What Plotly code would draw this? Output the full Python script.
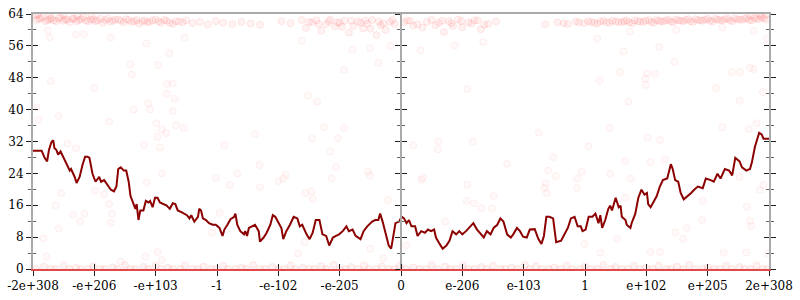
import plotly.graph_objects as go

# ---- x axis (ordered floating-point axis) ----
tick_vals = [-6, -5, -4, -3, -2, -1, 0, 1, 2, 3, 4, 5, 6]
tick_text = ["-2e+308", "-e+206", "-e+103", "-1", "-e-102", "-e-205", "0",
             "e-206", "e-103", "1", "e+102", "e+205", "2e+308"]

# ---- average error line ----
line_x = [
    -6.00, -5.86, -5.81, -5.77, -5.74, -5.70, -5.67, -5.65, -5.62, -5.59,
    -5.55, -5.51, -5.46, -5.40, -5.38, -5.32, -5.29, -5.24, -5.19, -5.15,
    -5.11, -5.08, -5.03, -4.98, -4.92, -4.89, -4.84, -4.79, -4.73, -4.68,
    -4.64, -4.61, -4.57, -4.52, -4.48, -4.44, -4.41, -4.36, -4.33, -4.31,
    -4.28, -4.25, -4.20, -4.16, -4.12, -4.09, -4.05, -4.01, -3.97, -3.93,
    -3.88, -3.82, -3.77, -3.72, -3.68, -3.64, -3.58, -3.53, -3.49, -3.45,
    -3.42, -3.37, -3.31, -3.29, -3.26, -3.23, -3.18, -3.13, -3.07, -3.02,
    -2.96, -2.91, -2.88, -2.83, -2.78, -2.72, -2.70, -2.67, -2.62, -2.56,
    -2.54, -2.51, -2.48, -2.43, -2.38, -2.32, -2.30, -2.24, -2.19, -2.13,
    -2.09, -2.05, -2.00, -1.95, -1.92, -1.87, -1.81, -1.75, -1.69, -1.65,
    -1.61, -1.54, -1.49, -1.44, -1.39, -1.33, -1.28, -1.22, -1.17, -1.11,
    -1.06, -1.01, -0.95, -0.89, -0.85, -0.79, -0.74, -0.66, -0.61, -0.55,
    -0.47, -0.42, -0.37, -0.34, -0.30, -0.26, -0.20, -0.16, -0.12, -0.09,
    -0.03, 0.01, 0.05, 0.09, 0.13, 0.17, 0.23, 0.27, 0.33, 0.39,
    0.44, 0.49, 0.54, 0.57, 0.63, 0.68, 0.74, 0.79, 0.84, 0.90,
    0.95, 1.00, 1.06, 1.11, 1.18, 1.24, 1.30, 1.35, 1.40, 1.46,
    1.51, 1.57, 1.62, 1.67, 1.73, 1.79, 1.83, 1.89, 1.94, 1.99,
    2.05, 2.10, 2.18, 2.24, 2.29, 2.33, 2.37, 2.42, 2.48, 2.53,
    2.61, 2.67, 2.72, 2.77, 2.83, 2.88, 2.93, 2.96, 3.01, 3.06,
    3.12, 3.17, 3.22, 3.25, 3.28, 3.33, 3.38, 3.41, 3.44, 3.50,
    3.55, 3.58, 3.60, 3.66, 3.68, 3.74, 3.76, 3.82, 3.87, 3.92,
    3.97, 4.01, 4.03, 4.07, 4.11, 4.17, 4.22, 4.27, 4.34, 4.40,
    4.43, 4.47, 4.52, 4.56, 4.61, 4.68, 4.73, 4.78, 4.84, 4.92,
    4.97, 5.05, 5.10, 5.16, 5.21, 5.28, 5.35, 5.40, 5.45, 5.52,
    5.56, 5.63, 5.69, 5.72, 5.77, 5.81, 5.84, 5.88, 5.91, 6.00,
]
line_y = [
    29.7, 29.7, 27.9, 27.0, 29.9, 31.8, 32.3, 30.3, 29.9, 28.7,
    29.5, 28.2, 26.3, 24.7, 25.1, 23.1, 21.6, 23.1, 26.3, 28.2,
    28.2, 27.9, 23.9, 21.9, 23.1, 21.9, 22.3, 21.1, 19.9, 19.5,
    20.7, 25.1, 25.5, 24.7, 24.7, 21.9, 18.3, 16.3, 15.1, 16.3,
    12.3, 14.7, 14.7, 17.1, 16.7, 17.1, 15.5, 17.9, 17.9, 16.7,
    16.3, 15.9, 15.1, 16.5, 16.3, 14.7, 14.3, 13.9, 13.5, 12.7,
    13.5, 11.9, 13.1, 15.1, 14.7, 12.7, 12.3, 11.5, 11.1, 11.1,
    10.3, 8.3, 9.9, 11.1, 12.5, 13.1, 13.9, 11.1, 9.5, 8.7,
    9.5, 8.3, 10.3, 10.7, 11.1, 9.5, 6.9, 7.9, 9.1, 11.1,
    13.5, 13.1, 11.5, 10.3, 7.5, 9.5, 11.1, 13.1, 12.7, 10.7,
    11.1, 8.7, 7.5, 9.1, 12.3, 12.3, 8.7, 8.3, 5.9, 7.9,
    8.3, 8.7, 9.5, 10.7, 9.5, 9.9, 8.3, 7.5, 9.5, 10.7,
    11.9, 12.3, 12.3, 13.9, 11.9, 9.5, 5.9, 5.1, 8.7, 11.5,
    11.9, 13.1, 12.7, 11.5, 12.3, 10.7, 10.7, 8.3, 9.5, 9.1,
    9.9, 9.5, 9.9, 7.9, 6.3, 5.1, 5.9, 7.1, 9.5, 8.7,
    9.5, 8.7, 9.5, 10.3, 11.5, 9.9, 8.7, 7.9, 9.5, 8.7,
    10.3, 11.1, 12.7, 11.9, 8.7, 7.9, 8.7, 10.3, 9.5, 8.1,
    7.9, 9.9, 10.0, 7.5, 6.3, 8.3, 13.1, 13.1, 12.7, 6.7,
    7.1, 8.7, 10.3, 12.7, 13.1, 10.7, 10.7, 9.5, 9.9, 13.1,
    13.1, 13.9, 11.5, 13.5, 10.3, 12.3, 15.1, 15.9, 14.7, 17.9,
    15.5, 15.9, 13.1, 12.3, 11.1, 10.3, 11.5, 13.9, 17.9, 19.9,
    18.7, 19.1, 16.3, 15.5, 16.7, 18.3, 20.7, 22.3, 22.7, 26.3,
    25.1, 22.3, 21.9, 19.1, 17.5, 18.3, 19.1, 19.9, 20.7, 20.3,
    22.7, 22.3, 21.9, 23.9, 22.7, 25.1, 24.7, 23.5, 27.9, 27.0,
    25.5, 24.7, 25.1, 26.7, 30.6, 32.7, 34.2, 33.8, 32.7, 32.7,
]

# ---- sampled points: low-error band ----
bottom_x = [
    -5.95, -5.82, -5.71, -5.63, -5.50, -5.41, -5.30, -5.22, -5.10, -5.02,
    -4.90, -4.83, -4.70, -4.62, -4.50, -4.41, -4.33, -4.20, -4.12, -4.00,
    -3.91, -3.80, -3.72, -3.60, -3.52, -3.40, -3.31, -3.22, -3.10, -3.01,
    -2.90, -2.82, -2.70, -2.60, -2.52, -2.41, -2.30, -2.21, -2.10, -2.00,
    -1.90, -1.80, -1.72, -1.60, -1.50, -1.41, -1.30, -1.22, -1.10, -1.00,
    -0.90, -0.81, -0.70, -0.60, -0.52, -0.40, -0.31, -0.20, -0.10, -0.02,
    0.08, 0.20, 0.30, 0.41, 0.50, 0.60, 0.72, 0.80, 0.90, 1.01,
    1.10, 1.20, 1.31, 1.40, 1.50, 1.62, 1.70, 1.80, 1.90, 2.02,
    2.10, 2.20, 2.30, 2.41, 2.50, 2.60, 2.70, 2.80, 2.92, 3.00,
    3.10, 3.20, 3.30, 3.42, 3.50, 3.60, 3.70, 3.80, 3.90, 4.00,
    4.10, 4.20, 4.32, 4.40, 4.50, 4.60, 4.70, 4.80, 4.92, 5.00,
    5.10, 5.20, 5.30, 5.40, 5.52, 5.60, 5.70, 5.80, 5.90, 5.98,
]
bottom_y = [
    0.0, 0.6, 0.0, 0.0, 0.9, 0.0, 0.3, 0.0, 0.0, 0.7,
    0.0, 0.0, 0.4, 0.0, 1.0, 0.0, 0.0, 0.5, 0.0, 0.8,
    0.0, 0.3, 0.0, 0.0, 0.9, 0.0, 0.0, 0.6, 0.0, 0.0,
    0.8, 0.0, 0.0, 0.4, 0.0, 1.0, 0.0, 0.0, 0.5, 0.0,
    0.0, 0.9, 0.0, 0.3, 0.0, 0.0, 0.7, 0.0, 1.0, 0.0,
    0.0, 0.5, 0.0, 0.9, 0.0, 0.0, 0.6, 0.0, 0.0, 0.8,
    0.0, 0.4, 0.0, 0.0, 1.0, 0.0, 0.6, 0.0, 0.0, 0.9,
    0.0, 0.0, 0.5, 0.0, 0.8, 0.0, 0.0, 0.3, 0.0, 1.0,
    0.0, 0.7, 0.0, 0.0, 0.4, 0.0, 0.9, 0.0, 0.0, 0.6,
    0.0, 0.0, 1.0, 0.0, 0.5, 0.0, 0.0, 0.8, 0.0, 0.3,
    0.0, 0.9, 0.0, 0.0, 0.6, 0.0, 1.0, 0.0, 0.0, 0.4,
    0.0, 0.0, 0.8, 0.0, 0.5, 0.0, 0.0, 0.9, 0.0, 0.0,
]

# ---- sampled points: high-error band ----
top_x = [
    -5.97, -5.90, -5.84, -5.76, -5.70, -5.62, -5.55, -5.47, -5.40, -5.33,
    -5.25, -5.18, -5.10, -5.02, -4.95, -4.86, -4.78, -4.70, -4.61, -4.52,
    -4.44, -4.35, -4.27, -4.18, -4.10, -4.00, -3.91, -3.82, -3.72, -3.62,
    -3.50, -3.40, -3.28, -3.15, -3.02, -2.90, -2.75, -2.60, -2.45, -2.30,
    -5.93, -5.72, -5.50, -5.28, -5.05,
    -1.95, -1.80, -1.62, -1.55, -1.45, -1.38, -1.30, -1.22, -1.15, -1.08,
    -1.00, -0.92, -0.85, -0.78, -0.70, -0.62, -0.55, -0.47, -0.40, -0.33,
    -0.25, -0.18, -0.10, 0.10, 0.20, 0.35, 0.50, 0.62, 0.70, 0.78,
    0.85, 0.93, 1.00, 1.10, 1.20, 1.30, 1.42, 1.55,
    2.35, 2.55, 2.72, 2.85, 2.98, 3.10, 3.20, 3.30, 3.40, 3.50,
    3.60, 3.68, 3.77, 3.86, 3.95, 4.04, 4.12, 4.20, 4.28, 4.36,
    4.44, 4.52, 4.60, 4.68, 4.76, 4.84, 4.92, 5.00, 5.08, 5.16,
    5.24, 5.32, 5.40, 5.48, 5.56, 5.64, 5.72, 5.80, 5.88, 5.96,
    5.70, 5.85, 5.95,
]
top_y = [
    63.6, 62.8, 63.3, 62.4, 62.9, 62.2, 63.1, 62.6, 62.0, 62.8,
    62.5, 63.2, 62.1, 62.7, 62.4, 61.8, 62.9, 62.3, 62.6, 61.9,
    62.5, 62.2, 61.6, 62.4, 62.0, 62.6, 61.8, 62.3, 61.5, 62.1,
    62.4, 61.7, 62.0, 61.4, 62.2, 61.8, 61.5, 62.0, 61.6, 61.3,
    63.8, 63.7, 63.8, 63.6, 63.7,
    62.2, 61.7, 62.5, 60.5, 61.9, 62.4, 59.8, 61.4, 62.6, 60.9,
    61.8, 62.3, 59.3, 61.0, 62.1, 60.4, 61.6, 62.5, 58.7, 61.2,
    60.0, 62.0, 61.5, 62.4, 61.1, 60.6, 62.5, 61.8, 59.5, 62.2,
    61.0, 62.6, 60.7, 61.9, 62.4, 60.2, 61.5, 62.1,
    61.4, 61.9, 61.5, 62.1, 61.7, 62.0, 61.6, 62.3, 61.8, 62.1,
    61.9, 62.4, 61.7, 62.2, 62.0, 62.5, 61.8, 62.3, 62.1, 62.6,
    61.9, 62.4, 62.2, 62.7, 62.0, 62.5, 62.3, 62.8, 62.1, 62.6,
    62.4, 62.9, 62.2, 62.7, 62.5, 63.0, 62.4, 62.8, 63.2, 62.6,
    63.6, 63.7, 63.8,
]
top2_x = [
    -5.94, -5.87, -5.80, -5.73, -5.66, -5.58, -5.51, -5.44, -5.36, -5.29,
    -5.21, -5.14, -5.06, -4.98, -4.90, -4.82, -4.74, -4.66, -4.57, -4.48,
    -4.39, -4.31, -4.22, -4.14, -4.05, -3.95, -3.86, -3.77, -3.67, -3.56,
    -1.50, -1.34, -1.18, -1.04, -0.96, -0.81, -0.66, -0.58, -0.50, -0.36,
    -0.29, -0.14, 0.05, 0.15, 0.27, 0.42, 0.56, 0.67, 0.82, 0.98,
    1.15, 1.25, 1.36,
    2.65, 2.90, 3.05, 3.15, 3.25, 3.35, 3.45, 3.55, 3.64, 3.72,
    3.81, 3.90, 3.99, 4.08, 4.16, 4.24, 4.32, 4.40, 4.48, 4.56,
    4.64, 4.72, 4.80, 4.88, 4.96, 5.04, 5.12, 5.20, 5.28, 5.36,
    5.44, 5.52, 5.60, 5.68, 5.76, 5.84, 5.92,
]
top2_y = [
    62.5, 62.9, 62.2, 62.7, 62.4, 62.9, 62.3, 62.6, 62.8, 62.2,
    62.7, 62.4, 62.6, 62.2, 62.8, 62.5, 62.1, 62.6, 62.3, 62.7,
    62.0, 62.5, 62.2, 61.9, 62.4, 62.1, 62.5, 61.8, 62.2, 61.9,
    62.0, 61.5, 62.2, 61.9, 60.8, 62.3, 61.8, 62.4, 60.3, 62.1,
    61.6, 62.5, 61.9, 62.3, 61.4, 62.0, 61.2, 62.3, 61.7, 62.2,
    61.6, 62.4, 61.3,
    61.7, 61.9, 62.2, 61.8, 62.1, 61.9, 62.3, 62.0, 62.2, 61.9,
    62.4, 62.1, 62.3, 62.0, 62.5, 62.2, 62.4, 62.1, 62.6, 62.3,
    62.5, 62.2, 62.7, 62.4, 62.6, 62.3, 62.8, 62.5, 62.7, 62.4,
    62.9, 62.6, 62.8, 62.5, 63.0, 62.7, 62.9,
]

# ---- sampled points: scattered in between ----
sparse_x = [
    -5.76, -5.73, -5.30, -5.17, -4.73, -4.41, -4.39, -3.96, -3.78, -4.15,
    -3.53, -5.71, -5.00, -3.82, -3.72, -3.82, -3.69, -5.94, -5.91, -5.58,
    -4.76, -4.36, -4.12, -4.09, -3.99, -3.90, -3.97, -3.83, -3.72, -3.67,
    -3.54, -4.19, -3.93, -5.44, -5.30, -4.15, -4.99, -5.54, -5.63, -5.35,
    -5.16, -5.23, -5.58, -5.83, -4.76, -4.73, -4.84, -3.90, -3.02, -2.79,
    -2.67, -2.31, -2.30, -2.00, -2.96, -3.08, -3.90, -4.17, -5.78, -2.88,
    -2.38, -4.71, -3.97, -4.57, -1.25, -0.93, -1.45, -1.03, -1.15, -1.06,
    -1.92, -1.88, -1.13, -1.56, -1.46, -1.44, -0.54, -0.51, -0.21, 0.20,
    0.61, 0.60, 1.17, 0.33, 0.36, 1.08, 1.07, 1.19, 1.31, 1.48,
    1.51, 1.73, 0.72, 0.09, -0.50, -1.68, -0.29, -1.57, 2.25, 2.40,
    2.48, 2.52, 2.36, 2.34, 2.38, 2.87, 2.95, 2.87, 3.06, 3.40,
    3.41, 3.65, 3.66, 3.75, 4.02, 4.07, 4.22, 4.30, 4.92, 4.91,
    4.47, 4.66, 4.60, 2.99, 3.52, 3.25, 4.07, 4.22, 5.24, 5.67,
    5.80, 5.52, 5.85, 5.91, 5.69, 5.71, 5.64, 5.26, 5.63, 5.98,
    3.63, 4.21, 4.46, 3.57, 4.01, 4.14, 3.98, 3.99, 3.24, 5.14,
    5.39, 5.53, 5.69, 5.75, 5.90, 3.71, 5.52, 3.20, 5.96, 3.73,
    4.49, 5.24, 5.75, -1.52, -1.37, -0.93, -0.37, -0.79, 1.08, 0.32,
    -0.17, 0.88, -1.62, -0.50, 1.34,
]
sparse_y = [
    59.8, 58.1, 58.8, 59.0, 58.1, 51.4, 48.8, 51.2, 54.2, 56.6,
    58.1, 47.2, 45.4, 46.4, 46.6, 44.0, 42.8, 40.6, 37.5, 38.4,
    37.0, 40.0, 41.6, 40.1, 36.6, 35.1, 33.2, 34.1, 39.6, 36.1,
    35.4, 31.1, 30.5, 31.5, 30.3, 21.7, 19.7, 19.1, 16.0, 13.6,
    13.9, 12.0, 10.1, 7.7, 16.3, 11.6, 18.7, 24.0, 22.8, 21.1,
    24.0, 26.1, 20.5, 22.1, 14.1, 9.1, 2.3, 3.1, 3.1, 31.1,
    33.9, 13.9, 4.3, 1.9, 35.6, 35.4, 32.7, 32.8, 29.5, 25.6,
    22.7, 23.6, 22.8, 19.1, 19.5, 17.6, 24.5, 23.5, 17.3, 31.1,
    32.0, 30.0, 32.0, 22.4, 22.9, 21.2, 17.1, 16.5, 15.2, 15.2,
    18.3, 26.4, 11.9, 5.9, 5.1, 3.9, 2.7, 6.7, 34.2, 24.7,
    28.1, 23.3, 21.5, 20.3, 19.1, 22.7, 24.4, 20.3, 30.8, 35.4,
    23.9, 27.1, 17.9, 22.7, 33.0, 26.8, 32.4, 27.5, 17.1, 12.3,
    9.2, 10.3, 7.6, 6.3, 7.6, 4.1, 4.3, 4.3, 35.6, 35.1,
    36.6, 23.1, 19.9, 21.1, 12.1, 10.8, 15.6, 4.1, 4.1, 3.9,
    54.6, 55.7, 52.0, 49.4, 49.0, 49.0, 47.8, 46.2, 47.3, 45.4,
    49.4, 49.4, 50.5, 50.2, 44.4, 42.0, 42.2, 57.8, 57.8, 59.6,
    60.0, 60.6, 59.8, 43.5, 42.0, 50.0, 51.7, 55.0, 45.2, 54.9,
    56.0, 56.1, 57.3, 55.4, 57.0,
]

FONT = dict(family="'DejaVu Serif', 'Liberation Serif', serif", size=12, color="black")
AXIS_GREY = "#aaaaaa"
TICK_MAJOR = "#222222"
TICK_MINOR = "#666666"

fig = go.Figure()

# faint scattered samples
fig.add_trace(go.Scatter(
    x=sparse_x, y=sparse_y, mode="markers",
    marker=dict(size=7, color="rgba(255,0,0,0.025)",
                line=dict(color="rgba(255,0,0,0.06)", width=1)),
    hoverinfo="skip", showlegend=False,
))
# dense bands of samples (many overlapping points in the original)
fig.add_trace(go.Scatter(
    x=top_x + top2_x + bottom_x, y=top_y + top2_y + bottom_y, mode="markers",
    marker=dict(size=7, color="rgba(255,0,0,0.05)",
                line=dict(color="rgba(255,0,0,0.08)", width=1)),
    hoverinfo="skip", showlegend=False,
))
fig.add_trace(go.Scatter(
    x=line_x, y=line_y, mode="lines",
    line=dict(color="#8b0000", width=2),
    hoverinfo="skip", showlegend=False,
))

# empty traces so that the overlay axes (crossing ticks, frame lines) are drawn
for xa, ya in [("x2", "y"), ("x3", "y"), ("x", "y2"), ("x", "y3"),
               ("x", "y4"), ("x", "y5"), ("x", "y6")]:
    fig.add_trace(go.Scatter(x=[None], y=[None], xaxis=xa, yaxis=ya,
                             mode="markers", hoverinfo="skip", showlegend=False))


def yax(side, ticks, show_line, labels, anchor="x", position=None, overlay=True):
    d = dict(range=[0, 64], tickmode="linear", tick0=0, dtick=8,
             showgrid=False, zeroline=False, side=side, anchor=anchor,
             ticks=ticks, ticklen=5, tickwidth=1, tickcolor=TICK_MAJOR,
             showline=show_line, linecolor=AXIS_GREY, linewidth=2,
             showticklabels=labels, tickfont=FONT,
             minor=dict(ticks=ticks, ticklen=3, tickwidth=1, tickcolor=TICK_MINOR,
                        tickmode="linear", tick0=0, dtick=4, showgrid=False))
    if overlay:
        d["overlaying"] = "y"
    if position is not None:
        d["position"] = position
    return d


xcommon = dict(range=[-6, 6], tickmode="array", tickvals=tick_vals,
               showgrid=False, zeroline=False)

fig.update_layout(
    width=800, height=300,
    margin=dict(l=28, r=26, t=7, b=26),
    paper_bgcolor="white", plot_bgcolor="white",
    showlegend=False,
    xaxis=dict(**xcommon, ticktext=tick_text, side="bottom", anchor="y",
               ticks="outside", ticklen=5, tickwidth=1, tickcolor=TICK_MAJOR,
               showline=True, linecolor="rgba(222,52,52,0.9)", linewidth=2,
               tickfont=FONT),
    xaxis2=dict(**xcommon, overlaying="x", side="bottom", anchor="y",
                ticks="inside", ticklen=5, tickwidth=1, tickcolor=TICK_MAJOR,
                showline=False, showticklabels=False),
    xaxis3=dict(**xcommon, overlaying="x", side="top", anchor="y",
                ticks="", showline=True, linecolor=AXIS_GREY, linewidth=2,
                showticklabels=False),
    yaxis=yax("left", "outside", True, True, overlay=False),
    yaxis2=yax("left", "inside", False, False),
    yaxis3=yax("left", "outside", True, False, anchor="free", position=0.5),
    yaxis4=yax("left", "inside", False, False, anchor="free", position=0.5),
    yaxis5=yax("right", "outside", True, False),
    yaxis6=yax("right", "inside", False, False),
)

fig.write_html("out.html")
